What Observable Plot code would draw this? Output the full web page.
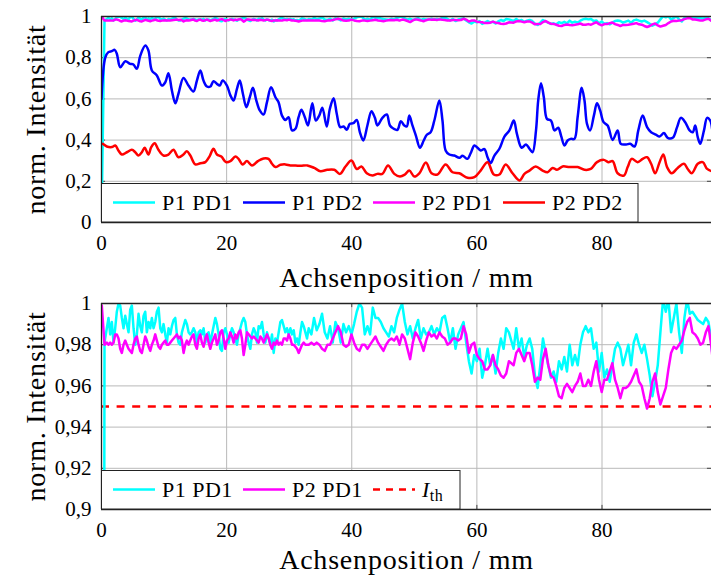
<!DOCTYPE html>
<html>
<head>
<meta charset="utf-8">
<script src="https://cdn.jsdelivr.net/npm/d3@7"></script>
<script src="https://cdn.jsdelivr.net/npm/@observablehq/plot@0.6"></script>
<style>
  html, body { margin: 0; padding: 0; background: #fff; }
  #chart { width: 711px; height: 583px; overflow: hidden; }
  #chart svg { display: block; }
</style>
</head>
<body>
<div id="chart"></div>
<script>
// ---------- labels / ticks ----------
const seriesNames = ["P1 PD1", "P1 PD2", "P2 PD1", "P2 PD2"];
const seriesColors = ["#00ffff", "#0000ff", "#ff00ff", "#ff0000"];
const xLabel = "Achsenposition / mm";
const yLabel = "norm. Intensität";
const xTicks = [0, 20, 40, 60, 80];
const topYTicks = [0, 0.2, 0.4, 0.6, 0.8, 1];
const bottomYTicks = [0.9, 0.92, 0.94, 0.96, 0.98, 1];
const threshold = 0.95;

// ---------- P1 PD2 (blue) ----------
const p1pd2X = [0,0.6,1.1,1.65,2.1,2.45,3.0,3.8,4.6,5.1,5.65,6.2,7.0,7.5,8.05,8.85,9.65,10.2,10.7,11.25,11.8,12.3,13.1,13.9,14.7,15.25,15.8,16.3,16.85,17.4,17.9,18.45,18.9,19.35,20.05,20.6,21.1,21.65,22.1,22.6,23.15,23.7,24.2,24.75,25.3,25.9,26.45,27.1,27.8,28.3,28.85,29.4,29.9,30.45,31.0,31.5,31.95,32.5,33.0,33.7,34.25,34.8,35.3,36.0,36.5,37.1,37.6,38.15,38.7,39.2,39.7,40.25,40.8,41.3,41.85,42.5,43.15,43.7,44.1,44.9,45.6,46.1,46.7,47.3,47.85,48.4,48.8,49.2,49.7,50.25,50.9,51.5,52.0,52.6,53.2,54.0,54.5,55.0,55.6,56.4,57.2,57.7,58.5,59.0,59.6,60.1,60.6,61.2,61.7,62.2,62.8,63.6,64.4,65.2,65.9,66.4,67.15,67.85,68.4,68.9,69.45,69.8,70.25,70.7,71.2,71.85,72.4,73.0,73.45,74.0,74.5,75.0,75.6,76.1,76.75,77.2,77.6,78.1,78.7,79.2,79.7,80.25,80.9,81.7,82.5,83.0,83.85,84.5,85.2,85.8,86.5,87.2,87.85,88.6,89.2,89.9,90.5,91.3,92.0,92.6,93.3,94.0,94.5,94.9,95.3,95.7,96.3,96.8,97.3,97.6];
const p1pd2Y = [0.60,0.80,0.827,0.832,0.838,0.819,0.754,0.783,0.77,0.767,0.746,0.81,0.859,0.835,0.738,0.714,0.665,0.681,0.725,0.641,0.579,0.625,0.702,0.665,0.636,0.689,0.738,0.689,0.66,0.66,0.686,0.673,0.665,0.689,0.665,0.617,0.592,0.649,0.689,0.625,0.56,0.608,0.654,0.592,0.544,0.524,0.584,0.657,0.608,0.584,0.519,0.498,0.511,0.447,0.455,0.511,0.547,0.511,0.471,0.579,0.495,0.519,0.557,0.466,0.552,0.603,0.528,0.463,0.466,0.45,0.479,0.482,0.498,0.438,0.398,0.471,0.54,0.508,0.471,0.508,0.524,0.471,0.455,0.45,0.492,0.471,0.466,0.519,0.471,0.422,0.363,0.398,0.426,0.438,0.495,0.592,0.495,0.35,0.33,0.325,0.314,0.324,0.309,0.336,0.374,0.363,0.35,0.356,0.317,0.288,0.325,0.358,0.417,0.447,0.495,0.43,0.363,0.379,0.358,0.341,0.447,0.592,0.676,0.608,0.503,0.495,0.447,0.46,0.422,0.374,0.398,0.406,0.406,0.511,0.654,0.592,0.479,0.447,0.519,0.579,0.544,0.487,0.471,0.401,0.447,0.382,0.379,0.382,0.369,0.447,0.519,0.463,0.438,0.427,0.417,0.434,0.411,0.411,0.463,0.508,0.487,0.447,0.438,0.471,0.414,0.382,0.447,0.508,0.495,0.455];

// ---------- P2 PD2 (red) ----------
const p2pd2X = [0.2,0.85,1.65,2.2,2.7,3.25,4.05,4.85,5.4,5.9,6.45,6.9,7.5,7.95,8.5,9.1,9.9,10.7,11.5,12.3,13.1,13.65,14.2,15.0,15.8,16.6,17.25,17.9,18.45,19.15,19.9,20.6,21.4,21.9,22.55,23.25,24.05,25.0,25.9,26.7,27.25,27.8,28.6,29.4,30.2,31.0,31.85,32.9,34.0,35.0,36.1,37.2,38.1,39.0,39.95,40.8,41.55,42.4,43.3,44.1,44.9,45.8,46.8,47.7,48.5,49.2,50.0,50.8,51.85,52.75,53.7,55.0,56.1,57.2,58.5,59.6,60.6,61.7,62.7,63.6,64.6,65.7,66.8,67.6,68.4,69.4,70.5,71.3,72.1,72.8,73.7,74.8,76.1,77.2,78.2,79.2,80.3,81.0,81.7,82.5,83.5,84.1,84.75,85.7,86.5,87.2,87.85,88.5,89.2,89.8,90.4,91.15,92.1,93.1,93.7,94.35,95.3,96.1,96.8,97.5];
const p2pd2Y = [0.382,0.369,0.366,0.374,0.35,0.33,0.341,0.353,0.341,0.325,0.341,0.363,0.33,0.366,0.385,0.353,0.325,0.33,0.353,0.317,0.33,0.346,0.325,0.282,0.288,0.293,0.32,0.358,0.33,0.32,0.293,0.298,0.32,0.309,0.282,0.298,0.277,0.298,0.311,0.309,0.285,0.269,0.28,0.282,0.277,0.277,0.275,0.277,0.265,0.249,0.256,0.256,0.236,0.272,0.301,0.26,0.272,0.239,0.228,0.236,0.236,0.277,0.236,0.223,0.233,0.252,0.223,0.239,0.291,0.239,0.233,0.282,0.244,0.239,0.217,0.22,0.252,0.293,0.233,0.233,0.282,0.239,0.204,0.236,0.252,0.272,0.252,0.244,0.265,0.256,0.272,0.269,0.269,0.256,0.26,0.293,0.304,0.293,0.298,0.239,0.228,0.269,0.309,0.293,0.309,0.317,0.285,0.239,0.293,0.33,0.269,0.239,0.265,0.285,0.26,0.239,0.285,0.293,0.26,0.249];

// ---------- PD1 channels (shared positions) ----------
const pd1X = [0.05,0.48,0.85,1.12,1.39,1.65,1.92,2.19,2.45,2.72,2.99,3.25,3.52,3.79,4.05,4.32,4.59,4.85,5.12,5.39,5.65,5.92,6.19,6.45,6.72,6.99,7.25,7.52,7.79,8.05,8.32,8.59,8.85,9.12,9.39,9.65,9.92,10.19,10.45,10.72,10.99,11.25,11.52,11.79,12.05,12.32,12.59,12.85,13.12,13.39,13.65,13.92,14.19,14.45,14.72,14.99,15.25,15.52,15.79,16.05,16.32,16.59,16.85,17.12,17.39,17.65,17.92,18.19,18.45,18.72,18.99,19.25,19.52,19.79,20.05,20.32,20.59,20.85,21.12,21.39,21.65,21.92,22.19,22.45,22.72,22.99,23.25,23.52,23.79,24.05,24.32,24.59,24.85,25.12,25.39,25.65,25.92,26.19,26.45,26.72,26.99,27.25,27.52,27.79,28.05,28.32,28.59,28.85,29.12,29.39,29.65,29.92,30.19,30.45,30.72,30.99,31.25,31.52,31.79,32.05,32.32,32.59,32.85,
33.12,33.55,33.97,34.40,34.83,35.25,35.68,36.11,36.53,36.96,37.39,37.81,38.24,38.67,39.09,39.52,39.95,40.37,40.80,41.23,41.65,42.08,42.51,42.93,43.36,43.79,44.21,44.64,45.07,45.49,45.92,46.35,46.77,47.20,47.63,48.05,48.48,48.91,49.33,49.76,50.19,50.61,51.04,51.47,51.89,52.32,52.75,53.17,53.60,54.03,54.45,54.88,55.31,55.73,56.16,56.59,57.01,57.44,57.87,58.29,58.72,59.15,59.57,60.00,60.43,60.85,61.28,61.71,62.13,62.56,62.99,63.41,63.84,64.27,64.69,65.12,
65.87,66.29,66.72,67.15,67.57,68.00,68.43,68.85,69.28,69.71,70.13,70.56,70.99,71.41,71.84,72.27,72.69,73.12,73.55,73.97,74.40,74.83,75.25,75.68,76.11,76.53,76.96,77.39,77.81,78.24,78.67,79.09,79.52,79.95,80.37,80.80,81.23,81.65,82.08,82.51,82.93,83.36,83.79,84.21,84.64,85.07,85.49,85.92,86.35,86.77,87.20,87.63,88.05,88.48,88.91,89.33,89.76,90.19,90.61,91.04,91.47,91.89,92.32,92.75,93.17,93.60,94.03,94.45,94.88,95.31,95.73,96.16,96.59,97.01,97.44,97.65];
const p1pd1Y = [0.10,0.981,0.988,0.993,0.985,0.991,0.981,0.988,0.996,1.0,0.999,0.993,0.988,0.994,0.990,0.986,0.997,0.999,0.988,0.980,0.985,0.995,0.989,0.986,0.994,0.996,0.986,0.991,0.988,0.993,0.988,0.991,0.996,0.998,0.988,0.986,0.990,0.985,0.981,0.988,0.985,0.989,0.992,0.993,0.985,0.981,0.980,0.986,0.989,0.992,0.990,0.986,0.985,0.986,0.988,0.986,0.981,0.986,0.987,0.985,0.988,0.981,0.985,0.986,0.981,0.985,0.989,0.993,0.990,0.985,0.978,0.977,0.986,0.988,0.985,0.981,0.985,0.988,0.986,0.983,0.980,0.985,0.988,0.991,0.993,0.991,0.985,0.981,0.978,0.985,0.988,0.986,0.981,0.989,0.988,0.991,0.985,0.981,0.986,0.983,0.980,0.985,0.976,0.983,0.981,0.986,0.991,0.992,0.989,0.986,0.988,0.985,0.988,0.985,0.987,0.981,0.983,0.980,0.986,0.991,0.989,0.986,0.983,
0.988,0.985,0.993,0.987,0.990,0.995,0.986,0.983,0.989,0.981,0.991,0.988,0.981,0.990,0.986,0.989,0.985,0.990,0.996,1.0,0.998,0.985,0.989,0.985,0.998,0.993,0.993,0.991,0.988,0.986,0.984,0.989,0.986,0.993,0.997,1.0,0.991,0.985,0.989,0.983,0.988,0.992,0.983,0.988,0.985,0.986,0.989,0.985,0.988,0.986,0.993,0.994,0.988,0.981,0.988,0.978,0.985,0.988,0.991,0.981,0.972,0.966,0.975,0.972,0.978,0.964,0.970,0.978,0.970,0.975,0.966,0.976,0.983,0.978,0.988,0.986,
0.978,0.988,0.978,0.983,0.974,0.980,0.983,0.978,0.965,0.959,0.970,0.983,0.976,0.970,0.964,0.967,0.962,0.972,0.968,0.974,0.967,0.980,0.970,0.975,0.970,0.980,0.986,0.989,0.986,0.988,0.978,0.981,0.967,0.976,0.964,0.968,0.962,0.970,0.978,0.981,0.978,0.970,0.975,0.980,0.970,0.981,0.985,0.980,0.976,0.980,0.973,0.965,0.955,0.962,0.970,0.986,1.002,0.996,1.002,0.986,0.993,1.0,0.986,0.976,0.993,1.002,0.995,0.996,0.994,0.992,0.991,0.990,0.993,0.991,0.983,0.975];
const p2pd1Y = [0.999,0.980,0.981,0.980,0.981,0.980,0.981,0.985,0.985,0.983,0.978,0.976,0.980,0.982,0.980,0.978,0.977,0.976,0.980,0.983,0.984,0.980,0.977,0.976,0.980,0.984,0.982,0.979,0.977,0.980,0.982,0.985,0.982,0.979,0.978,0.980,0.981,0.982,0.980,0.980,0.981,0.982,0.983,0.984,0.985,0.983,0.984,0.982,0.976,0.980,0.982,0.980,0.982,0.984,0.985,0.980,0.978,0.983,0.985,0.981,0.979,0.983,0.985,0.981,0.978,0.981,0.983,0.985,0.980,0.982,0.986,0.987,0.983,0.978,0.982,0.983,0.986,0.984,0.981,0.985,0.983,0.986,0.987,0.983,0.975,0.980,0.986,0.985,0.984,0.983,0.984,0.983,0.982,0.981,0.984,0.983,0.981,0.983,0.985,0.983,0.980,0.978,0.981,0.980,0.982,0.980,0.981,0.980,0.983,0.983,0.982,0.985,0.983,0.980,0.980,0.979,0.978,0.976,0.978,0.980,0.981,0.980,0.980,
0.980,0.981,0.980,0.981,0.980,0.978,0.977,0.980,0.980,0.983,0.986,0.989,0.986,0.980,0.979,0.980,0.985,0.981,0.978,0.977,0.980,0.980,0.978,0.980,0.982,0.984,0.981,0.979,0.977,0.980,0.982,0.983,0.982,0.984,0.980,0.985,0.983,0.978,0.973,0.981,0.986,0.984,0.981,0.977,0.982,0.986,0.984,0.985,0.983,0.986,0.984,0.983,0.980,0.981,0.983,0.983,0.982,0.983,0.989,0.985,0.976,0.980,0.981,0.975,0.973,0.972,0.968,0.968,0.970,0.975,0.970,0.968,0.965,0.964,0.966,0.972,
0.970,0.976,0.978,0.975,0.972,0.976,0.976,0.970,0.962,0.964,0.963,0.973,0.978,0.970,0.965,0.964,0.960,0.955,0.954,0.959,0.961,0.959,0.957,0.960,0.962,0.966,0.960,0.960,0.963,0.960,0.967,0.972,0.963,0.957,0.963,0.963,0.967,0.971,0.963,0.959,0.954,0.959,0.959,0.960,0.962,0.965,0.968,0.962,0.960,0.954,0.949,0.954,0.962,0.966,0.957,0.951,0.955,0.959,0.968,0.976,0.979,0.978,0.980,0.982,0.987,0.991,0.993,0.986,0.985,0.983,0.980,0.981,0.986,0.989,0.980,0.974];

// ---------- tables ----------
const toRows = (xs, ys) => xs.map((x, i) => ({x, y: ys[i]}));
const p1pd1 = toRows(pd1X, p1pd1Y);
const p2pd1 = toRows(pd1X, p2pd1Y);
const p1pd2 = toRows(p1pd2X, p1pd2Y);
const p2pd2 = toRows(p2pd2X, p2pd2Y);

const FONT = "'Liberation Serif', 'DejaVu Serif', serif";
const GRID = "#b9b9b9";
const fmt = d => String(d).replace(".", ",");
const X_DOMAIN = [0, 97.5];

function panel({height, marginTop, marginBottom, titleDy, yDomain, yTicks, lines, extra}) {
  const [y0, y1] = yDomain;
  const tickLenY = (y1 - y0) * 0.02;
  const svg = Plot.plot({
    width: 711,
    height,
    marginTop,
    marginBottom,
    marginLeft: 101,
    marginRight: 0,
    style: {fontFamily: FONT, background: "white", color: "black", overflow: "visible"},
    x: {domain: X_DOMAIN},
    y: {domain: yDomain},
    marks: [
      Plot.gridX(xTicks, {stroke: GRID, strokeOpacity: 1, strokeWidth: 1}),
      Plot.gridY(yTicks, {stroke: GRID, strokeOpacity: 1, strokeWidth: 1}),
      Plot.ruleY(yTicks, {x1: 0, x2: 0.65, stroke: "#444", strokeWidth: 1}),
      Plot.ruleY(yTicks, {x1: X_DOMAIN[1] - 0.65, x2: X_DOMAIN[1], stroke: "#444", strokeWidth: 1}),
      Plot.ruleX(xTicks, {y1: y0, y2: y0 + tickLenY, stroke: "#444", strokeWidth: 1}),
      Plot.ruleX(xTicks, {y1: y1 - tickLenY, y2: y1, stroke: "#444", strokeWidth: 1}),
      ...(extra || []),
      ...lines.map(l => Plot.line(l.data, {x: "x", y: "y", stroke: l.color, strokeWidth: 2.5, curve: l.curve || "linear", clip: true, strokeLinejoin: "round"})),
      Plot.ruleX([0], {stroke: "#222", strokeWidth: 1.3}),
      Plot.ruleY([y0, y1], {stroke: "#222", strokeWidth: 1.3}),
      Plot.axisX(xTicks, {tickSize: 0, tickPadding: 13, fontSize: 21, label: null, tickFormat: fmt}),
      Plot.axisY(yTicks, {tickSize: 0, tickPadding: 10, fontSize: 21, label: null, tickFormat: fmt}),
      Plot.text([xLabel], {text: d => d, frameAnchor: "bottom", dy: titleDy, textAnchor: "middle", lineAnchor: "middle", fontSize: 28}),
      Plot.text([yLabel], {text: d => d, frameAnchor: "left", dx: -65, rotate: -90, textAnchor: "middle", lineAnchor: "middle", fontSize: 28})
    ]
  });
  d3.select(svg).selectAll("text")
    .filter(function () { return this.textContent === xLabel || this.textContent === yLabel; })
    .attr("letter-spacing", "0.8px");
  return svg;
}

function addLegend(svg, items, boxWidth, frameBottom) {
  const top = frameBottom - 38.5;
  const g = d3.select(svg).append("g").attr("text-anchor", "start");
  g.append("rect")
    .attr("x", 101.5).attr("y", top).attr("width", boxWidth).attr("height", 38.5)
    .attr("fill", "white").attr("stroke", "#222").attr("stroke-width", 1);
  items.forEach((it, i) => {
    const x0 = 113 + i * 130;
    g.append("line")
      .attr("x1", x0).attr("x2", x0 + 42).attr("y1", top + 19).attr("y2", top + 19)
      .attr("stroke", it.color).attr("stroke-width", 2.5)
      .attr("stroke-dasharray", it.dash || null);
    const t = g.append("text")
      .attr("x", x0 + 49).attr("y", top + 26.5)
      .attr("text-anchor", "start")
      .attr("font-family", FONT).attr("font-size", 22)
      .attr("letter-spacing", "0.5px").attr("fill", "black");
    if (it.sub) {
      t.append("tspan").attr("font-style", "italic").text(it.label);
      t.append("tspan").attr("font-size", 16).attr("dy", 4).text(it.sub);
    } else {
      t.text(it.label);
    }
  });
}

const chartEl = document.getElementById("chart");

// top panel (frame from y=16 to y=222)
const topSvg = panel({
  height: 300,
  marginTop: 16,
  marginBottom: 78,
  titleDy: 56,
  yDomain: [0, 1],
  yTicks: topYTicks,
  lines: [
    {data: p1pd1, color: seriesColors[0]},
    {data: p1pd2, color: seriesColors[1], curve: "catmull-rom"},
    {data: p2pd1, color: seriesColors[2]},
    {data: p2pd2, color: seriesColors[3], curve: "catmull-rom"}
  ]
});
addLegend(topSvg, seriesNames.map((s, i) => ({label: s, color: seriesColors[i]})), 536.5, 222);
chartEl.appendChild(topSvg);

// bottom panel (frame from page y=303 to y=509)
const bottomSvg = panel({
  height: 283,
  marginTop: 3,
  marginBottom: 74,
  titleDy: 51,
  yDomain: [0.9, 1],
  yTicks: bottomYTicks,
  lines: [
    {data: p1pd1, color: seriesColors[0]},
    {data: p2pd1, color: seriesColors[2]}
  ],
  extra: [Plot.ruleY([threshold], {stroke: "#ff0000", strokeWidth: 2.5, strokeDasharray: "8,7.6"})]
});
addLegend(bottomSvg, [
  {label: seriesNames[0], color: seriesColors[0]},
  {label: seriesNames[2], color: seriesColors[2]},
  {label: "I", sub: "th", color: "#ff0000", dash: "7,6"}
], 358.5, 209);
chartEl.appendChild(bottomSvg);
</script>
</body>
</html>
